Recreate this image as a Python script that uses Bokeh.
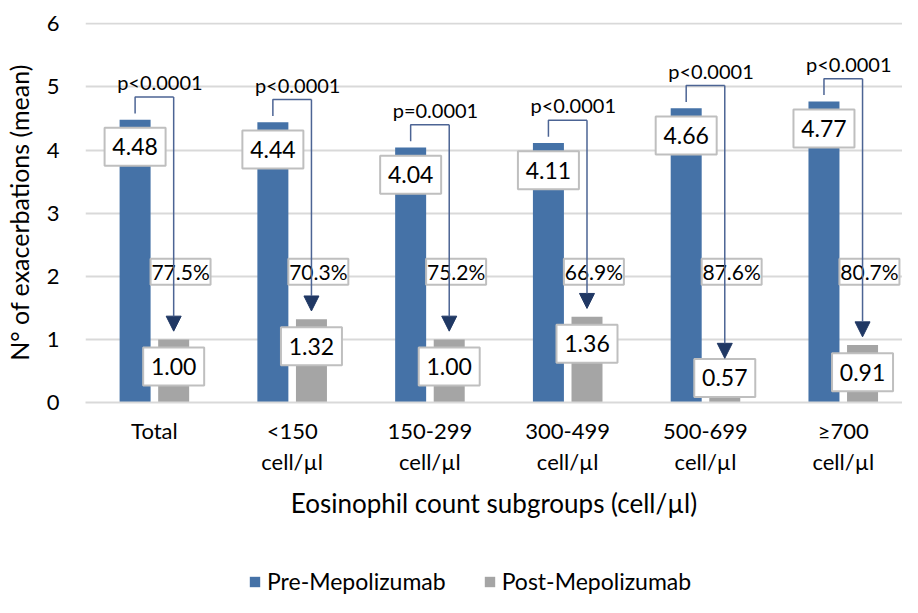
from bokeh.plotting import figure
from bokeh.layouts import column
from bokeh.models import (ColumnDataSource, Range1d, FixedTicker, Arrow, NormalHead,
                          Legend, LegendItem)
from bokeh.embed import file_html
from bokeh.resources import INLINE
from bokeh.core.properties import value

# ---------------- data ----------------
groups = ["Total", "<150\ncell/µl", "150-299\ncell/µl", "300-499\ncell/µl",
          "500-699\ncell/µl", "≥700\ncell/µl"]
pre = [4.48, 4.44, 4.04, 4.11, 4.66, 4.77]
post = [1.00, 1.32, 1.00, 1.36, 0.57, 0.91]
reduction = [77.5, 70.3, 75.2, 66.9, 87.6, 80.7]
pvals = ["p<0.0001", "p<0.0001", "p=0.0001", "p<0.0001", "p<0.0001", "p<0.0001"]
y_ticks = [0, 1, 2, 3, 4, 5, 6]
series_names = ["Pre-Mepolizumab", "Post-Mepolizumab"]
x_title = "Eosinophil count subgroups (cell/µl)"
y_title = "N° of exacerbations (mean)"

# ---------------- style ----------------
BLUE = "#4572A7"
GRAY = "#A5A5A5"
GRID = "#D9D9D9"
BOX_LINE = "#BFBFBF"
BRACKET = "#4C6494"
HEAD = "#203864"
FONT = "Lato"
DODGE = 0.14
BW = 0.225
W = 902
H_MAIN = 557
H_LEG = 40

n = len(groups)
centers = [i + 0.5 for i in range(n)]
xpre = [c - DODGE for c in centers]
xpost = [c + DODGE for c in centers]

p = figure(width=W, height=H_MAIN, output_backend="svg", toolbar_location=None,
           x_range=Range1d(0, 5.93), y_range=Range1d(0, 6.02),
           min_border_left=83, min_border_right=0, min_border_top=22,
           min_border_bottom=155)
p.outline_line_color = None
p.background_fill_color = "white"
p.border_fill_color = "white"

# grid / axes
p.xgrid.grid_line_color = None
p.ygrid.grid_line_color = GRID
p.ygrid.grid_line_width = 2
p.yaxis.ticker = FixedTicker(ticks=y_ticks)
p.xaxis.ticker = FixedTicker(ticks=centers)
p.xaxis.major_label_overrides = {c: g for c, g in zip(centers, groups)}

for ax in (p.xaxis[0], p.yaxis[0]):
    ax.major_tick_line_color = None
    ax.minor_tick_line_color = None
    ax.major_label_text_font = FONT
    ax.major_label_text_font_size = "22px"
    ax.major_label_text_color = "black"
    ax.axis_label_text_font = FONT
    ax.axis_label_text_font_style = "normal"
    ax.axis_label_text_color = "black"
p.yaxis.axis_line_color = None
p.xaxis.axis_line_color = GRID
p.xaxis.axis_line_width = 2
p.yaxis.major_label_standoff = 20
p.xaxis.major_label_standoff = 8
p.xaxis.major_label_text_line_height = 1.15
p.yaxis.axis_label = y_title
p.yaxis.axis_label_text_font_size = "25px"
p.yaxis.axis_label_standoff = 10
p.xaxis.axis_label = x_title
p.xaxis.axis_label_text_font_size = "26px"
p.xaxis.axis_label_standoff = 9

# bars
src = ColumnDataSource(dict(xpre=xpre, xpost=xpost, pre=pre, post=post))
p.vbar(x="xpre", top="pre", width=BW, source=src, fill_color=BLUE, line_color=None)
p.vbar(x="xpost", top="post", width=BW, source=src, fill_color=GRAY, line_color=None)

# brackets
BR_START = 0.10
BR_TOP = 0.36
TIP = 0.13
xs = [[a, a, b] for a, b in zip(xpre, xpost)]
ys = [[v + BR_START, v + BR_TOP, v + BR_TOP] for v in pre]
p.multi_line(xs=xs, ys=ys, line_color=BRACKET, line_width=1.5)
arr_src = ColumnDataSource(dict(x0=xpost, y0=[v + BR_TOP for v in pre],
                                x1=xpost, y1=[v + TIP for v in post]))
p.add_layout(Arrow(source=arr_src, x_start="x0", y_start="y0", x_end="x1", y_end="y1",
                   line_color=BRACKET, line_width=1.5,
                   end=NormalHead(size=15, fill_color=HEAD, line_color=HEAD, line_width=1)))

# p-value texts
p.text(x=[(a + b) / 2 + 0.04 for a, b in zip(xpre, xpost)], y=[v + BR_TOP for v in pre],
       text=pvals, y_offset=-15, text_align="center", text_baseline="middle",
       text_font=value(FONT), text_font_size="20px", text_color="black")

# value labels
LBL_OFF = 0.43
LBL_MIN = 0.39
lab_x = xpre + xpost
lab_y = [v - LBL_OFF for v in pre] + [max(v - LBL_OFF, LBL_MIN) for v in post]
lab_t = [f"{v:.2f}" for v in pre] + [f"{v:.2f}" for v in post]
p.rect(x=lab_x, y=lab_y, width=61, height=38, width_units="screen", height_units="screen",
       fill_color="white", line_color=BOX_LINE, line_width=2)
p.text(x=lab_x, y=lab_y, text=lab_t, text_align="center", text_baseline="middle",
       text_font=value(FONT), text_font_size="23px", text_color="black")

# reduction labels
PCT_Y = 2.07
pct_x = [x + 0.05 for x in xpost]
p.rect(x=pct_x, y=[PCT_Y] * n, width=60, height=26, width_units="screen",
       height_units="screen", fill_color="white", line_color=BOX_LINE, line_width=2)
p.text(x=pct_x, y=[PCT_Y] * n, text=[f"{v:.1f}%" for v in reduction],
       text_align="center", text_baseline="middle",
       text_font=value(FONT), text_font_size="21px", text_color="black")

# legend strip (separate figure below the chart)
lg = figure(width=W, height=H_LEG, output_backend="svg", toolbar_location=None,
            x_range=Range1d(0, W), y_range=Range1d(0, H_LEG),
            x_axis_type=None, y_axis_type=None,
            min_border=0, outline_line_color=None)
lg.grid.visible = False
lg.background_fill_color = "white"
lg.border_fill_color = "white"
# legend-key renderers, drawn outside the visible range
key_src = ColumnDataSource(dict(x=[-5000], top=[-10]))
l_pre = lg.vbar(x="x", top="top", width=1, source=key_src, fill_color=BLUE, line_color=None)
l_post = lg.vbar(x="x", top="top", width=1, source=key_src, fill_color=GRAY, line_color=None)
legend = Legend(items=[LegendItem(label=series_names[0], renderers=[l_pre]),
                       LegendItem(label=series_names[1], renderers=[l_post])],
                orientation="horizontal", location=(163, 2), padding=0, margin=0,
                spacing=37, glyph_width=13, glyph_height=13, label_standoff=6,
                label_text_font=FONT, label_text_font_size="23px",
                label_text_color="black",
                border_line_color=None, background_fill_alpha=0)
lg.add_layout(legend, "center")

layout = column(p, lg, spacing=0)
open("out.html", "w").write(file_html(layout, INLINE))
